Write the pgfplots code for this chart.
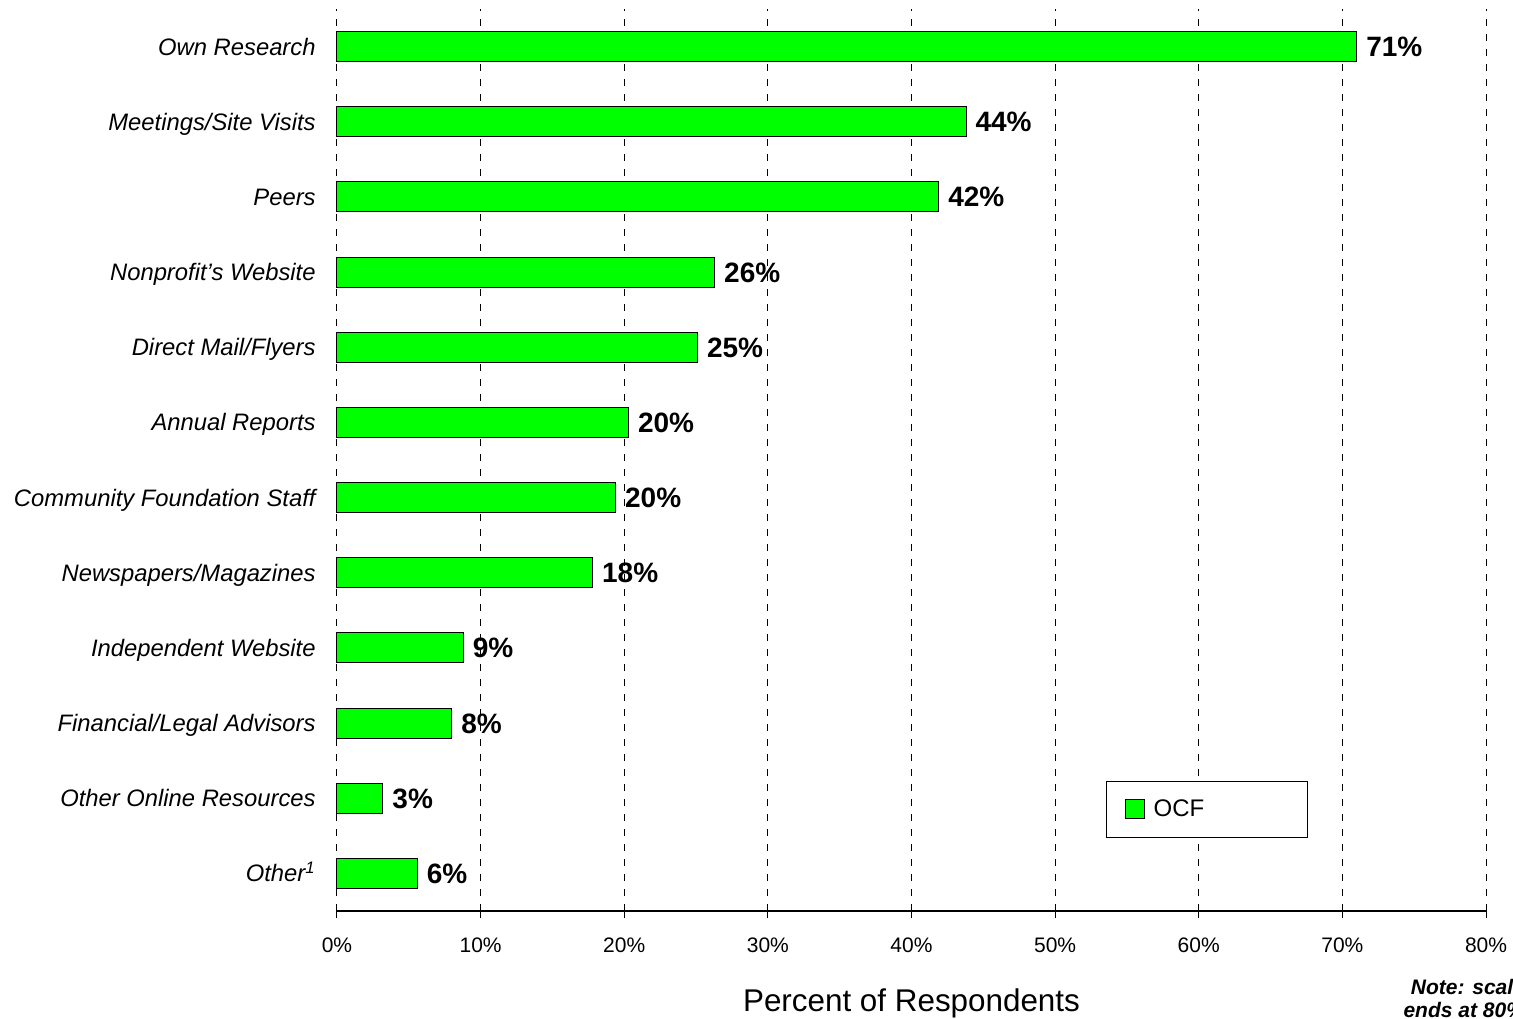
\documentclass[border=0pt]{standalone}
\usepackage{pgfplots}
\pgfplotsset{compat=1.18}
\usepackage{fontspec}
\setmainfont{Liberation Sans}
\usetikzlibrary{calc}
\pgfplotsset{ocflegend/.style={legend image code/.code={\draw[##1, line width=0.5pt] (0pt,-4.75pt) rectangle (9.5pt,4.75pt);}}}
\begin{document}
\begin{tikzpicture}
\begin{axis}[
  name=ax,
  scale only axis,
  width=574.5pt, height=451pt,
  xbar, bar width=0.4,
  xmin=0, xmax=80, ymin=-0.5, ymax=11.5,
  xtick={0,10,20,30,40,50,60,70,80},
  xticklabels={0\%,10\%,20\%,30\%,40\%,50\%,60\%,70\%,80\%},
  ytick={0,1,2,3,4,5,6,7,8,9,10,11},
  yticklabels={Other\textsuperscript{1},Other Online Resources,Financial/Legal Advisors,Independent Website,Newspapers/Magazines,Community Foundation Staff,Annual Reports,Direct Mail/Flyers,Nonprofit’s Website,Peers,Meetings/Site Visits,Own Research},
  axis x line*=bottom, axis y line*=left,
  y axis line style={draw=none},
  x axis line style={black, line width=0.6pt, -},
  xmajorgrids,
  major x grid style={black, line width=0.5pt, dash pattern=on 3.5pt off 4pt},
  tick align=outside,
  major tick length=3.5pt,
  xtick style={black, line width=0.5pt},
  ytick style={draw=none},
  /pgf/number format/assume math mode=true,
  xticklabel style={font=\fontsize{10.5}{12}\selectfont, yshift=-6.5pt},
  yticklabel style={font=\itshape\fontsize{11.9}{13}\selectfont, inner sep=0pt, xshift=-7pt, text height=8.5pt, text depth=0pt},
  xlabel={Percent of Respondents},
  xlabel style={font=\fontsize{15.7}{18}\selectfont, at={(axis description cs:0.5,0)}, anchor=base, yshift=-50pt},
  point meta=explicit symbolic,
  nodes near coords,
  every node near coord/.append style={font=\bfseries\fontsize{14}{16}\selectfont, anchor=west, inner sep=0pt, xshift=4.5pt, black, text height=10pt, text depth=0pt},
  clip=false,
  legend style={at={(axis cs:53.55,1.23)}, anchor=north west, draw=black, line width=0.6pt,
    font=\fontsize{12}{14}\selectfont, inner xsep=9pt, inner ysep=7pt, column sep=2.5pt, legend cell align=left},
]
\addplot[fill=green, draw=black, line width=0.5pt, ocflegend]
  coordinates {
  (5.6,0) [6\%]
  (3.2,1) [3\%]
  (8.0,2) [8\%]
  (8.8,3) [9\%]
  (17.8,4) [18\%]
  (19.4,5) [20\%]
  (20.3,6) [20\%]
  (25.1,7) [25\%]
  (26.3,8) [26\%]
  (41.9,9) [42\%]
  (43.8,10) [44\%]
  (71.0,11) [71\%]
};
\addlegendentry{\makebox[66pt][l]{OCF}}
\end{axis}
\node[anchor=base east, font=\bfseries\itshape\fontsize{10.5}{12}\selectfont] at ($(ax.south west)+(597.5pt,-41.5pt)$) {Note: scale};
\node[anchor=base east, font=\bfseries\itshape\fontsize{10.5}{12}\selectfont] at ($(ax.south west)+(597.5pt,-53pt)$) {ends at 80\%};
\pgfresetboundingbox
\path[use as bounding box] ($(ax.south west)+(-168.5pt,-53.5pt)$) rectangle ($(ax.south west)+(588pt,455.5pt)$);
\end{tikzpicture}
\end{document}
